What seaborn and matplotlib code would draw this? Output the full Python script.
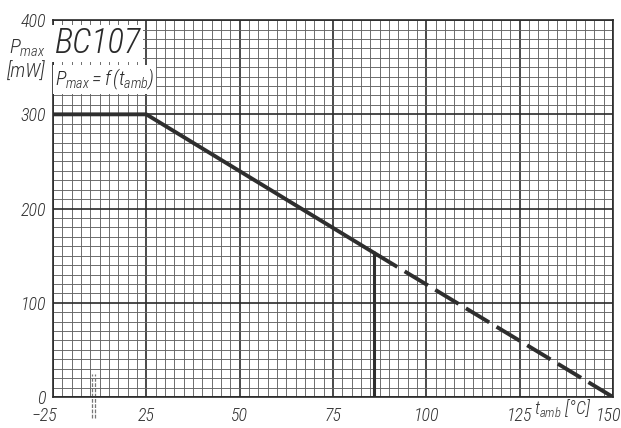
import numpy as np
import pandas as pd
import seaborn as sns
from matplotlib import pyplot as plt
from matplotlib import font_manager
from matplotlib import transforms as mtrans

# derating curve of BC107
temp_flat = [-25, 25, 86]
pmax_flat = [300, 300, 153]
temp_cut = [86, 86]
pmax_cut = [0, 153]
temp_dash = [86, 150]
pmax_dash = [153, 0]

xtick_vals = [-25, 25, 50, 75, 100, 125, 150]
xtick_labels = ['−25', '25', '50', '75', '100', '125', '150']
ytick_vals = [0, 100, 200, 300, 400]

# pick a narrow face if one is there, the datasheet lettering is condensed
have = {f.name for f in font_manager.fontManager.ttflist}
narrow = next((n for n in ['Liberation Sans Narrow', 'DejaVu Sans Condensed',
                           'Roboto Condensed', 'Open Sans Condensed']
               if n in have), None)

sns.set_style('white')
if narrow:
    plt.rcParams['font.family'] = [narrow, 'DejaVu Sans']
    k = 1.0
else:
    plt.rcParams['font.family'] = ['DejaVu Sans']
    plt.rcParams['font.stretch'] = 'condensed'
    narrow = 'DejaVu Sans'
    k = 0.85
plt.rcParams['font.style'] = 'italic'
plt.rcParams['font.weight'] = 'light'
plt.rcParams['mathtext.fontset'] = 'custom'
plt.rcParams['mathtext.it'] = narrow + ':italic:light'
plt.rcParams['mathtext.rm'] = narrow + ':italic:light'

ink = '#333333'


# broken axis: -25..10 squeezed into the first four grid cells
def fwd(x):
    x = np.asarray(x, dtype=float)
    return np.where(x < 10, 10 + (x - 10) * 10 / 35, x)


def inv(p):
    p = np.asarray(p, dtype=float)
    return np.where(p < 10, 10 + (p - 10) * 35 / 10, p)


fig = plt.figure(figsize=(6.21, 4.28), dpi=100)
ax = fig.add_axes([0.0853, 0.0724, 0.9017, 0.8806])
ax.set_xscale('function', functions=(fwd, inv))
ax.set_xlim(-25, 150)
ax.set_ylim(0, 400)

# millimetre-paper grid
minor_x = inv(np.arange(0, 150.01, 2.5))
ax.set_xticks(xtick_vals)
ax.set_xticks(minor_x, minor=True)
ax.set_xticklabels(xtick_labels)
ax.set_yticks(ytick_vals)
ax.set_yticks(np.arange(0, 401, 10), minor=True)
ax.grid(which='minor', color='#636363', lw=0.65)
ax.grid(which='major', color='#2a2a2a', lw=1.2)
ax.tick_params(which='both', length=0, labelsize=13 * k, colors=ink)
ax.tick_params(axis='x', pad=7)
ax.tick_params(axis='y', pad=5)
for s in ax.spines.values():
    s.set_color('#2a2a2a')
    s.set_linewidth(1.2)
ax.set_axisbelow(True)

# nudge the outer x labels like on the sheet
xl = ax.get_xticklabels()
xl[0].set_transform(xl[0].get_transform() + mtrans.ScaledTranslation(-6 / 72, 0, fig.dpi_scale_trans))
xl[-1].set_transform(xl[-1].get_transform() + mtrans.ScaledTranslation(-3.5 / 72, 0, fig.dpi_scale_trans))

sns.lineplot(x=temp_flat, y=pmax_flat, sort=False, estimator=None,
             color='#2e2e2e', lw=2.8, ax=ax)
sns.lineplot(x=temp_cut, y=pmax_cut, sort=False, estimator=None,
             color='#2e2e2e', lw=2.2, ax=ax)
dash = sns.lineplot(x=temp_dash, y=pmax_dash, sort=False, estimator=None,
                    color='#2e2e2e', lw=2.8, ax=ax)
dash.lines[-1].set_dashes([7, 2.2])

# axis-break mark
for xb in [0.069, 0.075]:
    ax.plot([xb, xb], [-0.055, 0.06], transform=ax.transAxes, color='#777777',
            lw=0.9, ls=(0, (3, 1.2)), clip_on=False)

# labels drawn in the datasheet style
ax.text(-23.5, 393, 'BC107', fontsize=25 * k, color='#2a2a2a', va='top', ha='left',
        bbox=dict(facecolor='white', edgecolor='none', pad=1.5))
ax.text(-23.5, 337, r'$P_{max}=f\,(t_{amb})$', fontsize=14.5 * k, color='#2a2a2a',
        va='center', ha='left',
        bbox=dict(facecolor='white', edgecolor='none', pad=1.5))
fig.text(0.074, 0.887, r'$P_{max}$', fontsize=15 * k, color=ink, ha='right', va='center')
fig.text(0.074, 0.833, '[mW]', fontsize=14.5 * k, color=ink, ha='right', va='center')
fig.text(0.906, 0.047, r'$t_{amb}$ [°C]', fontsize=13 * k, color=ink, ha='center', va='center')

fig.savefig('out.png', dpi=100, facecolor='white')
